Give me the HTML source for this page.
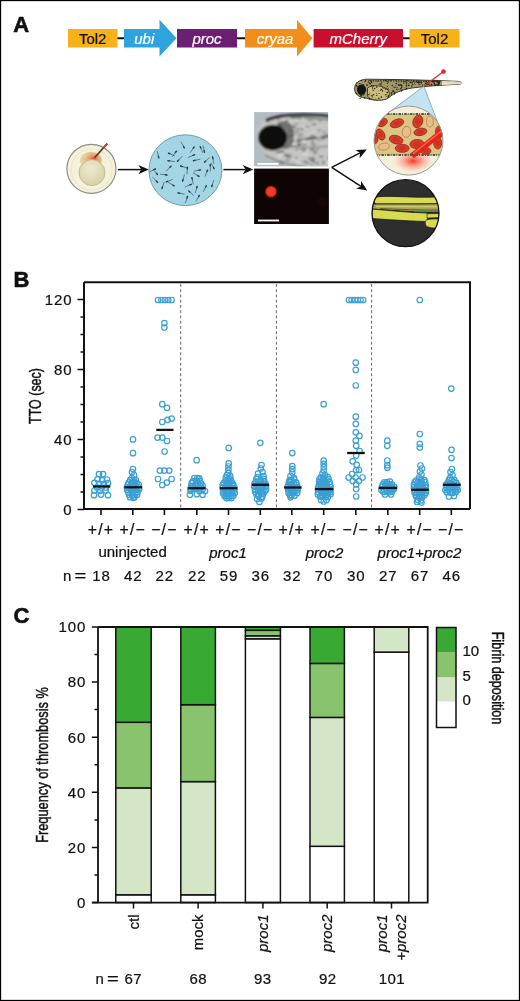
<!DOCTYPE html>
<html><head><meta charset="utf-8"><style>
html,body{margin:0;padding:0;background:#fff;}
svg{display:block;will-change:transform;}
.t{font-family:"Liberation Sans",sans-serif;font-size:15px;fill:#111;stroke:#111;stroke-width:0.22px;}
.i{font-style:italic;}
.gt{letter-spacing:1.2px;font-size:15.8px;}
.num{letter-spacing:0.9px;}
.ax{font-size:16px;stroke:#111;stroke-width:0.45px;}
.w{fill:#fff;stroke:#fff;}
.c15{font-size:15px;}
.pl{font-family:"Liberation Sans",sans-serif;font-weight:bold;font-size:22px;fill:#111;stroke:#111;stroke-width:0.6px;}
</style></head><body>
<svg width="520" height="1001" viewBox="0 0 520 1001">
<rect x="0" y="0" width="520" height="1001" fill="#fff"/>
<text x="13.3" y="32" class="pl">A</text>
<text x="13.6" y="287" class="pl">B</text>
<text x="13.6" y="622.6" class="pl">C</text>
<path d="M117,38.2 H124 M237,38.2 H245 M403,38.2 H410" stroke="#111" stroke-width="2"/>
<rect x="68" y="29" width="49.5" height="18.5" fill="#f7b219"/>
<text x="92.7" y="43.5" text-anchor="middle" class="t c15">Tol2</text>
<path d="M124,29 H159.5 V19.8 L176.5,38.2 L159.5,56.4 V47.5 H124 Z" fill="#2ea3dc"/>
<text x="144.3" y="43.5" text-anchor="middle" class="t i w c15">ubi</text>
<rect x="177" y="29" width="60" height="18.5" fill="#6b1f73"/>
<text x="207" y="43.5" text-anchor="middle" class="t i w c15">proc</text>
<path d="M245,29 H297 V19.8 L312.4,38.2 L297,56.4 V47.5 H245 Z" fill="#f18e1c"/>
<text x="275" y="43.5" text-anchor="middle" class="t i w c15">cryaa</text>
<rect x="313.6" y="29" width="89.4" height="18.5" fill="#c8102e"/>
<text x="358.3" y="43.5" text-anchor="middle" class="t i w c15">mCherry</text>
<rect x="409.5" y="29" width="50" height="18.5" fill="#f7b219"/>
<text x="434.5" y="43.5" text-anchor="middle" class="t c15">Tol2</text>
<defs>
<radialGradient id="yolk" cx="0.45" cy="0.35" r="0.7"><stop offset="0" stop-color="#eeead0"/><stop offset="1" stop-color="#d6cfa2"/></radialGradient>
<radialGradient id="cap" cx="0.62" cy="0.42" r="0.65"><stop offset="0" stop-color="#d8402a"/><stop offset="0.25" stop-color="#e2966a"/><stop offset="0.6" stop-color="#e8c490"/><stop offset="1" stop-color="#eed8a8"/></radialGradient>
<radialGradient id="glow" cx="0.5" cy="0.5" r="0.5"><stop offset="0" stop-color="#ff2a1a" stop-opacity="0.95"/><stop offset="0.5" stop-color="#ff5a40" stop-opacity="0.45"/><stop offset="1" stop-color="#ff8060" stop-opacity="0"/></radialGradient>
<radialGradient id="rdot" cx="0.5" cy="0.5" r="0.5"><stop offset="0" stop-color="#ff4a22"/><stop offset="0.75" stop-color="#f0361a"/><stop offset="1" stop-color="#b01c0c"/></radialGradient>
<clipPath id="c1"><circle cx="408.5" cy="140.6" r="34.5"/></clipPath>
<clipPath id="c2"><circle cx="405.5" cy="213.2" r="33.5"/></clipPath>
<clipPath id="ph"><rect x="254.1" y="112.1" width="74" height="54.2"/></clipPath>
<filter id="bl" x="-5%" y="-5%" width="110%" height="110%"><feGaussianBlur stdDeviation="1.0"/></filter>
</defs>
<circle cx="91.4" cy="168.8" r="24.5" fill="#f4f2dc" stroke="#8f8f88" stroke-width="1.2"/>
<circle cx="91.6" cy="169.5" r="20.5" fill="none" stroke="#ebe7c8" stroke-width="1.2"/>
<ellipse cx="91" cy="160.5" rx="11" ry="8.8" fill="url(#cap)"/>
<circle cx="92" cy="172.6" r="13" fill="url(#yolk)" stroke="#bdb58a" stroke-width="0.9"/>
<line x1="107.3" y1="143.6" x2="94.6" y2="157.6" stroke="#6a3526" stroke-width="1.6"/>
<line x1="107.3" y1="143.6" x2="103" y2="148.3" stroke="#c2402c" stroke-width="1.8"/>
<line x1="117.9" y1="169.6" x2="141.3" y2="169.6" stroke="#111" stroke-width="1.5"/><path d="M148.8,169.6 L138.3,174.2 L141.3,169.6 L138.3,165.0 Z" fill="#111"/>
<line x1="223.4" y1="169.6" x2="245.7" y2="169.6" stroke="#111" stroke-width="1.5"/><path d="M253.2,169.6 L242.7,174.2 L245.7,169.6 L242.7,165.0 Z" fill="#111"/>
<line x1="331.7" y1="167.4" x2="360.1" y2="152.8" stroke="#111" stroke-width="1.5"/><path d="M366.8,149.4 L359.6,158.3 L360.1,152.8 L355.4,150.1 Z" fill="#111"/>
<line x1="331.7" y1="167.4" x2="361.0" y2="186.4" stroke="#111" stroke-width="1.5"/><path d="M367.3,190.5 L356.0,188.6 L361.0,186.4 L361.0,180.9 Z" fill="#111"/>
<ellipse cx="185.4" cy="170.2" rx="36.5" ry="35.4" fill="#a3d5e5" stroke="#6d9fb0" stroke-width="1"/>
<g stroke="#2a3f46" stroke-linecap="round"><line x1="171.0" y1="166.2" x2="166.5" y2="170.9" stroke-width="0.6"/><line x1="171.0" y1="166.2" x2="169.9" y2="167.3" stroke-width="1.4"/><line x1="168.5" y1="153.2" x2="174.5" y2="155.8" stroke-width="0.6"/><line x1="168.5" y1="153.2" x2="170.0" y2="153.8" stroke-width="1.4"/><line x1="187.4" y1="167.3" x2="187.0" y2="173.8" stroke-width="0.6"/><line x1="187.4" y1="167.3" x2="187.3" y2="168.9" stroke-width="1.4"/><line x1="200.5" y1="169.9" x2="194.1" y2="171.1" stroke-width="0.6"/><line x1="200.5" y1="169.9" x2="198.9" y2="170.2" stroke-width="1.4"/><line x1="157.5" y1="174.5" x2="153.3" y2="169.5" stroke-width="0.6"/><line x1="157.5" y1="174.5" x2="156.4" y2="173.3" stroke-width="1.4"/><line x1="177.5" y1="161.3" x2="181.9" y2="156.5" stroke-width="0.6"/><line x1="177.5" y1="161.3" x2="178.6" y2="160.1" stroke-width="1.4"/><line x1="184.3" y1="147.9" x2="181.2" y2="142.2" stroke-width="0.6"/><line x1="184.3" y1="147.9" x2="183.5" y2="146.5" stroke-width="1.4"/><line x1="178.0" y1="192.9" x2="184.3" y2="194.2" stroke-width="0.6"/><line x1="178.0" y1="192.9" x2="179.5" y2="193.2" stroke-width="1.4"/><line x1="204.5" y1="152.2" x2="203.1" y2="145.8" stroke-width="0.6"/><line x1="204.5" y1="152.2" x2="204.2" y2="150.6" stroke-width="1.4"/><line x1="162.0" y1="188.5" x2="164.0" y2="182.4" stroke-width="0.6"/><line x1="162.0" y1="188.5" x2="162.5" y2="187.0" stroke-width="1.4"/><line x1="204.5" y1="162.2" x2="209.2" y2="157.7" stroke-width="0.6"/><line x1="204.5" y1="162.2" x2="205.7" y2="161.1" stroke-width="1.4"/><line x1="191.9" y1="177.6" x2="193.2" y2="184.0" stroke-width="0.6"/><line x1="191.9" y1="177.6" x2="192.2" y2="179.2" stroke-width="1.4"/><line x1="157.5" y1="182.2" x2="152.9" y2="177.5" stroke-width="0.6"/><line x1="157.5" y1="182.2" x2="156.3" y2="181.0" stroke-width="1.4"/><line x1="174.1" y1="185.8" x2="168.5" y2="182.5" stroke-width="0.6"/><line x1="174.1" y1="185.8" x2="172.7" y2="185.0" stroke-width="1.4"/><line x1="214.1" y1="168.7" x2="211.1" y2="163.0" stroke-width="0.6"/><line x1="214.1" y1="168.7" x2="213.4" y2="167.3" stroke-width="1.4"/><line x1="193.5" y1="160.7" x2="199.9" y2="159.3" stroke-width="0.6"/><line x1="193.5" y1="160.7" x2="195.1" y2="160.3" stroke-width="1.4"/><line x1="158.8" y1="157.9" x2="157.3" y2="151.6" stroke-width="0.6"/><line x1="158.8" y1="157.9" x2="158.4" y2="156.3" stroke-width="1.4"/><line x1="211.7" y1="186.6" x2="213.7" y2="180.4" stroke-width="0.6"/><line x1="211.7" y1="186.6" x2="212.2" y2="185.1" stroke-width="1.4"/><line x1="197.1" y1="186.4" x2="195.3" y2="192.7" stroke-width="0.6"/><line x1="197.1" y1="186.4" x2="196.7" y2="188.0" stroke-width="1.4"/><line x1="180.6" y1="166.0" x2="186.8" y2="167.8" stroke-width="0.6"/><line x1="180.6" y1="166.0" x2="182.1" y2="166.5" stroke-width="1.4"/><line x1="207.5" y1="170.1" x2="205.2" y2="176.1" stroke-width="0.6"/><line x1="207.5" y1="170.1" x2="207.0" y2="171.6" stroke-width="1.4"/><line x1="167.0" y1="175.0" x2="160.6" y2="174.2" stroke-width="0.6"/><line x1="167.0" y1="175.0" x2="165.4" y2="174.8" stroke-width="1.4"/><line x1="155.5" y1="169.0" x2="149.6" y2="171.7" stroke-width="0.6"/><line x1="155.5" y1="169.0" x2="154.0" y2="169.6" stroke-width="1.4"/><line x1="187.5" y1="196.5" x2="185.5" y2="202.7" stroke-width="0.6"/><line x1="187.5" y1="196.5" x2="187.0" y2="198.0" stroke-width="1.4"/><line x1="168.0" y1="160.7" x2="174.4" y2="161.5" stroke-width="0.6"/><line x1="168.0" y1="160.7" x2="169.6" y2="160.9" stroke-width="1.4"/><line x1="176.4" y1="151.2" x2="172.5" y2="156.4" stroke-width="0.6"/><line x1="176.4" y1="151.2" x2="175.4" y2="152.5" stroke-width="1.4"/><line x1="210.3" y1="164.5" x2="210.3" y2="171.0" stroke-width="0.6"/><line x1="210.3" y1="164.5" x2="210.3" y2="166.1" stroke-width="1.4"/><line x1="191.3" y1="184.3" x2="185.3" y2="186.9" stroke-width="0.6"/><line x1="191.3" y1="184.3" x2="189.8" y2="184.9" stroke-width="1.4"/><line x1="206.3" y1="185.8" x2="203.4" y2="191.6" stroke-width="0.6"/><line x1="206.3" y1="185.8" x2="205.6" y2="187.2" stroke-width="1.4"/><line x1="194.5" y1="154.8" x2="188.5" y2="157.3" stroke-width="0.6"/><line x1="194.5" y1="154.8" x2="193.0" y2="155.4" stroke-width="1.4"/><line x1="199.4" y1="195.4" x2="196.1" y2="200.9" stroke-width="0.6"/><line x1="199.4" y1="195.4" x2="198.6" y2="196.7" stroke-width="1.4"/><line x1="188.8" y1="190.9" x2="193.5" y2="195.3" stroke-width="0.6"/><line x1="188.8" y1="190.9" x2="189.9" y2="192.0" stroke-width="1.4"/><line x1="200.2" y1="146.6" x2="202.8" y2="152.6" stroke-width="0.6"/><line x1="200.2" y1="146.6" x2="200.8" y2="148.1" stroke-width="1.4"/><line x1="194.1" y1="147.0" x2="190.4" y2="152.4" stroke-width="0.6"/><line x1="194.1" y1="147.0" x2="193.2" y2="148.3" stroke-width="1.4"/><line x1="182.6" y1="181.1" x2="184.4" y2="174.8" stroke-width="0.6"/><line x1="182.6" y1="181.1" x2="183.0" y2="179.5" stroke-width="1.4"/><line x1="212.6" y1="157.0" x2="213.8" y2="163.4" stroke-width="0.6"/><line x1="212.6" y1="157.0" x2="212.9" y2="158.6" stroke-width="1.4"/><line x1="199.0" y1="176.4" x2="193.4" y2="173.0" stroke-width="0.6"/><line x1="199.0" y1="176.4" x2="197.6" y2="175.6" stroke-width="1.4"/><line x1="166.3" y1="181.9" x2="172.3" y2="179.5" stroke-width="0.6"/><line x1="166.3" y1="181.9" x2="167.7" y2="181.3" stroke-width="1.4"/></g>
<rect x="254.1" y="112.1" width="74" height="54.2" fill="#b4bcc3"/>
<g clip-path="url(#ph)"><g filter="url(#bl)">
<path d="M257,131 C258,121 272,114.5 292,114 C308,113.5 322,114.5 331,115.5 L331,168 L304,168 C292,165 278,161 268,155 C260,150 256,140 257,131 Z" fill="#c4c4c2"/>
<path d="M266,121 C276,115.5 292,114.5 310,115 C320,115.3 326,115.8 331,116.5" fill="none" stroke="#2e2e2e" stroke-width="3.2"/>
<path d="M290,118 C300,117.5 315,118.5 331,120" fill="none" stroke="#7a7a7a" stroke-width="1.6"/>
<path d="M265,155 C278,162 292,165.5 306,167.5" fill="none" stroke="#6a6a6a" stroke-width="1.3"/>
<path d="M292,142 C302,139.5 318,137.5 331,136" fill="none" stroke="#3a3a3a" stroke-width="2"/>
<path d="M295,150 C306,147.5 318,146.5 331,146.5" fill="none" stroke="#8a8a8a" stroke-width="1.4"/>
<ellipse cx="309.8" cy="134.0" rx="1.7" ry="1.8" fill="#e6e6e6" opacity="0.6"/>
<ellipse cx="320.2" cy="120.9" rx="1.6" ry="0.9" fill="#6a6a6a" opacity="0.6"/>
<ellipse cx="286.9" cy="155.2" rx="2.9" ry="1.8" fill="#6a6a6a" opacity="0.6"/>
<ellipse cx="303.4" cy="144.8" rx="1.9" ry="1.7" fill="#8c8c8c" opacity="0.6"/>
<ellipse cx="292.0" cy="142.8" rx="2.0" ry="1.4" fill="#6a6a6a" opacity="0.6"/>
<ellipse cx="322.6" cy="154.4" rx="1.3" ry="0.9" fill="#e6e6e6" opacity="0.6"/>
<ellipse cx="328.7" cy="158.2" rx="1.4" ry="1.4" fill="#7a7a7a" opacity="0.6"/>
<ellipse cx="286.2" cy="121.4" rx="1.9" ry="1.3" fill="#7a7a7a" opacity="0.6"/>
<ellipse cx="296.8" cy="127.0" rx="1.8" ry="0.9" fill="#dddddd" opacity="0.6"/>
<ellipse cx="278.2" cy="152.0" rx="2.6" ry="1.5" fill="#6a6a6a" opacity="0.6"/>
<ellipse cx="297.4" cy="146.4" rx="2.6" ry="1.3" fill="#6a6a6a" opacity="0.6"/>
<ellipse cx="310.4" cy="138.3" rx="1.9" ry="1.4" fill="#5a5a5a" opacity="0.6"/>
<ellipse cx="294.4" cy="162.7" rx="2.0" ry="0.8" fill="#8c8c8c" opacity="0.6"/>
<ellipse cx="305.9" cy="150.7" rx="1.3" ry="1.3" fill="#e6e6e6" opacity="0.6"/>
<ellipse cx="284.8" cy="119.3" rx="1.8" ry="2.0" fill="#dddddd" opacity="0.6"/>
<ellipse cx="319.1" cy="130.3" rx="2.0" ry="0.9" fill="#5a5a5a" opacity="0.6"/>
<ellipse cx="312.4" cy="159.7" rx="2.6" ry="1.6" fill="#5a5a5a" opacity="0.6"/>
<ellipse cx="294.6" cy="143.0" rx="2.7" ry="1.7" fill="#e6e6e6" opacity="0.6"/>
<ellipse cx="285.5" cy="154.4" rx="1.3" ry="0.9" fill="#6a6a6a" opacity="0.6"/>
<ellipse cx="312.3" cy="135.7" rx="2.7" ry="1.2" fill="#6a6a6a" opacity="0.6"/>
<ellipse cx="279.3" cy="123.4" rx="2.1" ry="1.6" fill="#7a7a7a" opacity="0.6"/>
<ellipse cx="308.1" cy="155.5" rx="1.3" ry="1.7" fill="#dddddd" opacity="0.6"/>
<ellipse cx="305.5" cy="129.2" rx="2.2" ry="0.9" fill="#dddddd" opacity="0.6"/>
<ellipse cx="281.2" cy="133.2" rx="2.2" ry="1.8" fill="#8c8c8c" opacity="0.6"/>
<ellipse cx="329.9" cy="148.4" rx="2.0" ry="1.6" fill="#e6e6e6" opacity="0.6"/>
<ellipse cx="291.2" cy="146.2" rx="2.9" ry="1.5" fill="#6a6a6a" opacity="0.6"/>
<ellipse cx="297.5" cy="129.1" rx="2.9" ry="1.8" fill="#8c8c8c" opacity="0.6"/>
<ellipse cx="299.6" cy="144.7" rx="2.2" ry="1.9" fill="#5a5a5a" opacity="0.6"/>
<ellipse cx="303.2" cy="148.2" rx="2.8" ry="1.0" fill="#6a6a6a" opacity="0.6"/>
<ellipse cx="303.9" cy="140.7" rx="2.5" ry="1.9" fill="#dddddd" opacity="0.6"/>
<ellipse cx="315.4" cy="126.7" rx="1.7" ry="1.0" fill="#dddddd" opacity="0.6"/>
<ellipse cx="304.8" cy="161.9" rx="2.7" ry="1.4" fill="#7a7a7a" opacity="0.6"/>
<ellipse cx="312.9" cy="158.2" rx="2.3" ry="1.5" fill="#7a7a7a" opacity="0.6"/>
<ellipse cx="324.2" cy="132.4" rx="1.7" ry="1.8" fill="#8c8c8c" opacity="0.6"/>
<ellipse cx="287.0" cy="134.9" rx="1.8" ry="1.7" fill="#8c8c8c" opacity="0.6"/>
<ellipse cx="299.8" cy="150.8" rx="2.5" ry="1.0" fill="#dddddd" opacity="0.6"/>
<ellipse cx="321.4" cy="156.6" rx="2.2" ry="1.4" fill="#5a5a5a" opacity="0.6"/>
<ellipse cx="281.8" cy="162.5" rx="2.6" ry="1.9" fill="#6a6a6a" opacity="0.6"/>
<ellipse cx="302.3" cy="128.8" rx="1.6" ry="1.7" fill="#5a5a5a" opacity="0.6"/>
<ellipse cx="281.6" cy="128.2" rx="1.7" ry="1.9" fill="#7a7a7a" opacity="0.6"/>
<ellipse cx="285.1" cy="147.2" rx="2.4" ry="0.8" fill="#7a7a7a" opacity="0.6"/>
<ellipse cx="286.8" cy="120.1" rx="1.5" ry="0.9" fill="#6a6a6a" opacity="0.6"/>
<ellipse cx="284.1" cy="130.4" rx="2.8" ry="0.8" fill="#e6e6e6" opacity="0.6"/>
<ellipse cx="308.2" cy="149.7" rx="1.2" ry="1.2" fill="#e6e6e6" opacity="0.6"/>
<ellipse cx="297.7" cy="121.7" rx="2.4" ry="1.7" fill="#e6e6e6" opacity="0.6"/>
<ellipse cx="298.3" cy="143.6" rx="1.4" ry="1.1" fill="#5a5a5a" opacity="0.6"/>
<ellipse cx="300.5" cy="138.6" rx="2.1" ry="1.1" fill="#dddddd" opacity="0.6"/>
<ellipse cx="326.9" cy="135.6" rx="2.6" ry="1.7" fill="#7a7a7a" opacity="0.6"/>
<ellipse cx="312.5" cy="149.5" rx="2.9" ry="1.8" fill="#6a6a6a" opacity="0.6"/>
<ellipse cx="317.2" cy="163.2" rx="2.4" ry="1.4" fill="#6a6a6a" opacity="0.6"/>
<ellipse cx="312.7" cy="141.9" rx="1.3" ry="1.2" fill="#5a5a5a" opacity="0.6"/>
<ellipse cx="307.5" cy="126.6" rx="2.4" ry="1.6" fill="#8c8c8c" opacity="0.6"/>
<ellipse cx="297.3" cy="161.2" rx="2.0" ry="0.9" fill="#dddddd" opacity="0.6"/>
<ellipse cx="285.4" cy="133.6" rx="2.5" ry="1.5" fill="#dddddd" opacity="0.6"/>
<ellipse cx="293.6" cy="126.8" rx="2.1" ry="1.7" fill="#5a5a5a" opacity="0.6"/>
<ellipse cx="281.6" cy="151.6" rx="2.6" ry="1.5" fill="#5a5a5a" opacity="0.6"/>
<ellipse cx="298.4" cy="122.7" rx="1.7" ry="0.9" fill="#8c8c8c" opacity="0.6"/>
<ellipse cx="280.2" cy="141.7" rx="1.6" ry="1.7" fill="#7a7a7a" opacity="0.6"/>
<ellipse cx="323.5" cy="162.4" rx="2.0" ry="1.8" fill="#6a6a6a" opacity="0.6"/>
<ellipse cx="296.3" cy="157.8" rx="1.4" ry="1.1" fill="#6a6a6a" opacity="0.6"/>
<ellipse cx="313.4" cy="144.5" rx="2.8" ry="0.9" fill="#5a5a5a" opacity="0.6"/>
<ellipse cx="287.8" cy="137.6" rx="2.5" ry="1.8" fill="#5a5a5a" opacity="0.6"/>
<ellipse cx="284.7" cy="146.6" rx="2.7" ry="1.8" fill="#dddddd" opacity="0.6"/>
<ellipse cx="305.4" cy="144.7" rx="1.6" ry="1.1" fill="#7a7a7a" opacity="0.6"/>
<ellipse cx="279.6" cy="155.7" rx="2.8" ry="1.9" fill="#e6e6e6" opacity="0.6"/>
<ellipse cx="294.4" cy="160.6" rx="1.8" ry="1.4" fill="#dddddd" opacity="0.6"/>
<ellipse cx="313.7" cy="132.1" rx="2.7" ry="1.4" fill="#dddddd" opacity="0.6"/>
<ellipse cx="287.9" cy="147.8" rx="1.4" ry="1.7" fill="#8c8c8c" opacity="0.6"/>
<ellipse cx="303.6" cy="142.6" rx="2.0" ry="1.0" fill="#dddddd" opacity="0.6"/>
<ellipse cx="289.0" cy="156.2" rx="2.9" ry="1.9" fill="#6a6a6a" opacity="0.6"/>
<ellipse cx="307.4" cy="163.1" rx="2.8" ry="1.0" fill="#6a6a6a" opacity="0.6"/>
<ellipse cx="310.4" cy="120.4" rx="1.8" ry="1.1" fill="#6a6a6a" opacity="0.6"/>
<ellipse cx="303.9" cy="118.9" rx="1.8" ry="1.2" fill="#7a7a7a" opacity="0.6"/>
<ellipse cx="314.1" cy="124.3" rx="2.7" ry="1.5" fill="#6a6a6a" opacity="0.6"/>
<ellipse cx="315.2" cy="152.8" rx="1.8" ry="1.8" fill="#6a6a6a" opacity="0.6"/>
<ellipse cx="322.8" cy="138.5" rx="2.6" ry="1.4" fill="#6a6a6a" opacity="0.6"/>
<ellipse cx="318.9" cy="137.2" rx="2.7" ry="1.6" fill="#e6e6e6" opacity="0.6"/>
<ellipse cx="303.9" cy="150.9" rx="2.2" ry="1.3" fill="#5a5a5a" opacity="0.6"/>
<ellipse cx="303.4" cy="119.1" rx="2.0" ry="1.6" fill="#e6e6e6" opacity="0.6"/>
<ellipse cx="287.4" cy="160.3" rx="2.5" ry="1.2" fill="#7a7a7a" opacity="0.6"/>
<ellipse cx="301.3" cy="135.0" rx="1.9" ry="2.0" fill="#8c8c8c" opacity="0.6"/>
<ellipse cx="291.5" cy="135.4" rx="2.7" ry="1.4" fill="#8c8c8c" opacity="0.6"/>
<ellipse cx="288.9" cy="126.0" rx="1.9" ry="1.0" fill="#6a6a6a" opacity="0.6"/>
<ellipse cx="285.2" cy="146.6" rx="2.0" ry="1.0" fill="#6a6a6a" opacity="0.6"/>
<ellipse cx="299.0" cy="132.9" rx="1.3" ry="1.7" fill="#8c8c8c" opacity="0.6"/>
<ellipse cx="299.0" cy="136.6" rx="1.2" ry="2.0" fill="#8c8c8c" opacity="0.6"/>
<ellipse cx="290.6" cy="136.3" rx="1.5" ry="1.2" fill="#6a6a6a" opacity="0.6"/>
<ellipse cx="296.0" cy="123.8" rx="1.3" ry="1.7" fill="#7a7a7a" opacity="0.6"/>
<ellipse cx="329.0" cy="162.3" rx="2.6" ry="2.0" fill="#e6e6e6" opacity="0.6"/>
<ellipse cx="291.0" cy="130.5" rx="2.7" ry="1.6" fill="#7a7a7a" opacity="0.6"/>
<ellipse cx="294.5" cy="120.7" rx="2.0" ry="0.9" fill="#dddddd" opacity="0.6"/>
<ellipse cx="278.2" cy="119.4" rx="1.4" ry="1.0" fill="#6a6a6a" opacity="0.6"/>
<ellipse cx="303.1" cy="126.9" rx="2.1" ry="1.2" fill="#e6e6e6" opacity="0.6"/>
<ellipse cx="295.7" cy="140.5" rx="1.8" ry="1.6" fill="#e6e6e6" opacity="0.6"/>
<ellipse cx="293.8" cy="146.5" rx="2.9" ry="0.9" fill="#7a7a7a" opacity="0.6"/>
<ellipse cx="287.6" cy="137.4" rx="2.1" ry="1.5" fill="#dddddd" opacity="0.6"/>
<ellipse cx="313.4" cy="161.6" rx="1.5" ry="1.7" fill="#5a5a5a" opacity="0.6"/>
<ellipse cx="298.1" cy="162.1" rx="1.8" ry="1.0" fill="#e6e6e6" opacity="0.6"/>
<ellipse cx="300.8" cy="138.9" rx="2.5" ry="1.2" fill="#8c8c8c" opacity="0.6"/>
<ellipse cx="304.4" cy="153.4" rx="2.8" ry="1.6" fill="#e6e6e6" opacity="0.6"/>
<ellipse cx="280.2" cy="126.1" rx="2.6" ry="1.8" fill="#6a6a6a" opacity="0.6"/>
<ellipse cx="317.4" cy="149.8" rx="1.4" ry="1.1" fill="#5a5a5a" opacity="0.6"/>
<ellipse cx="280.9" cy="146.8" rx="1.3" ry="1.4" fill="#5a5a5a" opacity="0.6"/>
<ellipse cx="311.6" cy="164.9" rx="1.2" ry="1.0" fill="#6a6a6a" opacity="0.6"/>
<ellipse cx="295.6" cy="132.6" rx="2.0" ry="1.8" fill="#8c8c8c" opacity="0.6"/>
<ellipse cx="290.5" cy="120.3" rx="1.5" ry="1.6" fill="#dddddd" opacity="0.6"/>
<ellipse cx="329.2" cy="123.3" rx="1.7" ry="1.1" fill="#dddddd" opacity="0.6"/>
<ellipse cx="304.8" cy="141.7" rx="2.8" ry="1.2" fill="#dddddd" opacity="0.6"/>
<ellipse cx="318.7" cy="140.0" rx="2.3" ry="0.8" fill="#6a6a6a" opacity="0.6"/>
<ellipse cx="309.1" cy="158.4" rx="1.4" ry="1.9" fill="#7a7a7a" opacity="0.6"/>
<ellipse cx="284" cy="135" rx="10" ry="14" fill="#404040" opacity="0.6"/>
<ellipse cx="272.6" cy="137.6" rx="14.5" ry="12.8" fill="#111"/>
</g></g>
<rect x="257.5" y="163" width="21" height="1.8" fill="#fff"/>
<rect x="254.1" y="168.6" width="74.8" height="55.4" fill="#0e0404"/>
<circle cx="271" cy="191.6" r="6.6" fill="#ff2a10" opacity="0.18"/>
<circle cx="271" cy="191.6" r="5.6" fill="url(#rdot)"/>
<circle cx="322" cy="202" r="5" fill="#2a0606" opacity="0.5"/>
<rect x="258" y="219.6" width="21" height="1.8" fill="#fff"/>
<path d="M354.6,89 C354.6,83 359,79.8 366,79.2 L400,79.6 C420,80 440,80.6 458,81.4 C462,81.8 462.5,83.6 459,84.2 C445,85 428,85.8 412,88 C402,89.6 394,93 389,97.5 C384,100.8 373,101 367,98.2 C361,98.3 354.6,95 354.6,89 Z" fill="#a39a6c" stroke="#2e2a18" stroke-width="0.9"/>
<path d="M442,80.9 C450,81.1 456,81.3 458,81.4 C462,81.8 462.5,83.6 459,84.2 C452,84.6 446,85 442,85.2 Z" fill="#e2dcc0"/>
<path d="M367.5,88 C372,84.5 383,85 388,90 C391,94 389,98 385,99.6 C378,101 370,100 367.5,96 Z" fill="#c9bc7c" stroke="#2e2a18" stroke-width="0.8"/>
<g fill="#1e1c12"><circle cx="363.2" cy="89.1" r="0.46"/><circle cx="425.7" cy="83.3" r="0.67"/><circle cx="420.0" cy="84.5" r="0.52"/><circle cx="406.7" cy="84.1" r="0.41"/><circle cx="426.2" cy="83.2" r="0.76"/><circle cx="373.3" cy="90.5" r="0.58"/><circle cx="417.2" cy="80.8" r="0.52"/><circle cx="396.7" cy="81.3" r="0.63"/><circle cx="417.8" cy="82.4" r="0.67"/><circle cx="406.9" cy="82.1" r="0.53"/><circle cx="439.6" cy="82.0" r="0.57"/><circle cx="363.1" cy="84.5" r="0.43"/><circle cx="434.2" cy="83.8" r="0.79"/><circle cx="438.9" cy="83.3" r="0.82"/><circle cx="401.0" cy="84.9" r="0.82"/><circle cx="431.9" cy="84.9" r="0.59"/><circle cx="421.0" cy="82.3" r="0.85"/><circle cx="433.3" cy="81.8" r="0.82"/><circle cx="371.5" cy="82.2" r="0.71"/><circle cx="380.7" cy="90.1" r="0.67"/><circle cx="359.4" cy="94.3" r="0.49"/><circle cx="392.3" cy="85.5" r="0.72"/><circle cx="418.7" cy="81.8" r="0.40"/><circle cx="381.1" cy="88.1" r="0.39"/><circle cx="368.9" cy="94.7" r="0.70"/><circle cx="438.0" cy="85.0" r="0.79"/><circle cx="387.3" cy="83.4" r="0.51"/><circle cx="394.9" cy="87.5" r="0.62"/><circle cx="386.2" cy="96.3" r="0.49"/><circle cx="394.9" cy="92.4" r="0.75"/><circle cx="381.0" cy="84.9" r="0.75"/><circle cx="356.8" cy="82.9" r="0.62"/><circle cx="401.0" cy="82.2" r="0.38"/><circle cx="373.1" cy="94.8" r="0.58"/><circle cx="438.3" cy="84.1" r="0.84"/><circle cx="359.0" cy="83.9" r="0.36"/><circle cx="392.3" cy="85.4" r="0.38"/><circle cx="401.9" cy="81.4" r="0.51"/><circle cx="376.8" cy="95.4" r="0.56"/><circle cx="377.9" cy="81.2" r="0.56"/><circle cx="408.7" cy="85.4" r="0.81"/><circle cx="423.9" cy="81.6" r="0.42"/><circle cx="419.7" cy="84.1" r="0.60"/><circle cx="425.8" cy="83.0" r="0.49"/><circle cx="370.2" cy="80.7" r="0.67"/><circle cx="431.3" cy="84.7" r="0.58"/><circle cx="411.9" cy="85.9" r="0.76"/><circle cx="406.6" cy="83.8" r="0.61"/><circle cx="370.3" cy="83.8" r="0.69"/><circle cx="439.3" cy="83.0" r="0.55"/><circle cx="385.6" cy="88.9" r="0.75"/><circle cx="394.0" cy="93.8" r="0.43"/><circle cx="382.5" cy="90.2" r="0.56"/><circle cx="427.5" cy="84.3" r="0.82"/><circle cx="407.4" cy="80.6" r="0.64"/><circle cx="402.2" cy="85.4" r="0.49"/><circle cx="415.6" cy="84.7" r="0.40"/><circle cx="412.2" cy="82.5" r="0.61"/><circle cx="431.2" cy="84.9" r="0.67"/><circle cx="372.4" cy="97.6" r="0.44"/><circle cx="388.2" cy="95.9" r="0.51"/><circle cx="378.8" cy="98.2" r="0.82"/><circle cx="382.7" cy="87.7" r="0.49"/><circle cx="367.0" cy="85.1" r="0.84"/><circle cx="362.7" cy="84.7" r="0.45"/><circle cx="362.7" cy="90.2" r="0.72"/><circle cx="426.4" cy="83.4" r="0.76"/><circle cx="356.5" cy="85.7" r="0.83"/><circle cx="361.8" cy="85.4" r="0.59"/><circle cx="378.5" cy="90.6" r="0.37"/><circle cx="375.8" cy="98.3" r="0.42"/><circle cx="432.1" cy="81.2" r="0.85"/><circle cx="412.7" cy="84.0" r="0.42"/><circle cx="360.6" cy="94.6" r="0.44"/><circle cx="371.9" cy="95.8" r="0.79"/><circle cx="360.1" cy="98.4" r="0.62"/><circle cx="388.1" cy="82.4" r="0.54"/><circle cx="439.0" cy="81.7" r="0.42"/><circle cx="368.2" cy="82.8" r="0.53"/><circle cx="432.9" cy="80.8" r="0.45"/><circle cx="434.9" cy="85.1" r="0.84"/><circle cx="376.7" cy="87.0" r="0.83"/><circle cx="396.7" cy="89.3" r="0.51"/><circle cx="357.8" cy="86.9" r="0.72"/><circle cx="421.7" cy="83.1" r="0.58"/><circle cx="401.2" cy="85.1" r="0.62"/><circle cx="426.0" cy="81.3" r="0.65"/><circle cx="434.4" cy="84.4" r="0.44"/><circle cx="436.9" cy="84.3" r="0.43"/><circle cx="378.3" cy="84.2" r="0.38"/><circle cx="438.2" cy="82.3" r="0.79"/><circle cx="365.6" cy="80.7" r="0.78"/><circle cx="422.7" cy="85.1" r="0.69"/><circle cx="400.1" cy="89.0" r="0.40"/><circle cx="401.4" cy="85.1" r="0.42"/><circle cx="406.4" cy="83.1" r="0.60"/><circle cx="387.4" cy="86.3" r="0.53"/><circle cx="406.5" cy="88.6" r="0.82"/><circle cx="428.4" cy="84.3" r="0.49"/><circle cx="438.0" cy="81.7" r="0.41"/><circle cx="398.1" cy="89.3" r="0.52"/><circle cx="410.2" cy="82.3" r="0.83"/><circle cx="394.0" cy="87.1" r="0.62"/><circle cx="429.5" cy="85.0" r="0.61"/><circle cx="393.1" cy="89.3" r="0.38"/><circle cx="391.7" cy="93.1" r="0.74"/><circle cx="361.0" cy="96.4" r="0.54"/><circle cx="438.4" cy="82.1" r="0.46"/><circle cx="402.1" cy="89.5" r="0.57"/><circle cx="428.9" cy="83.7" r="0.53"/><circle cx="381.3" cy="89.8" r="0.55"/><circle cx="387.3" cy="92.6" r="0.79"/><circle cx="405.1" cy="81.7" r="0.46"/><circle cx="387.2" cy="91.9" r="0.42"/><circle cx="362.9" cy="86.4" r="0.49"/><circle cx="358.5" cy="90.5" r="0.81"/><circle cx="400.9" cy="88.4" r="0.76"/><circle cx="426.4" cy="84.7" r="0.57"/><circle cx="413.3" cy="81.0" r="0.79"/><circle cx="387.8" cy="89.3" r="0.80"/><circle cx="380.1" cy="84.0" r="0.76"/><circle cx="406.3" cy="81.1" r="0.36"/><circle cx="385.5" cy="80.5" r="0.77"/><circle cx="371.4" cy="85.5" r="0.54"/><circle cx="399.0" cy="85.5" r="0.66"/><circle cx="411.4" cy="83.1" r="0.40"/><circle cx="438.2" cy="83.6" r="0.39"/><circle cx="393.1" cy="91.2" r="0.85"/><circle cx="361.5" cy="80.6" r="0.59"/><circle cx="391.5" cy="93.9" r="0.76"/><circle cx="383.9" cy="88.2" r="0.64"/><circle cx="430.3" cy="81.3" r="0.55"/><circle cx="363.4" cy="92.4" r="0.36"/><circle cx="434.5" cy="82.9" r="0.64"/><circle cx="363.2" cy="84.7" r="0.58"/><circle cx="428.0" cy="82.9" r="0.49"/><circle cx="438.5" cy="83.5" r="0.61"/><circle cx="373.0" cy="86.0" r="0.80"/><circle cx="367.2" cy="90.3" r="0.66"/><circle cx="385.8" cy="94.8" r="0.80"/><circle cx="428.0" cy="83.9" r="0.45"/><circle cx="361.0" cy="88.5" r="0.51"/><circle cx="372.3" cy="96.7" r="0.46"/><circle cx="425.1" cy="84.8" r="0.41"/><circle cx="432.7" cy="82.3" r="0.46"/><circle cx="371.7" cy="81.1" r="0.60"/><circle cx="388.3" cy="96.3" r="0.77"/><circle cx="360.8" cy="87.9" r="0.54"/><circle cx="370.9" cy="85.1" r="0.48"/><circle cx="414.3" cy="82.0" r="0.41"/><circle cx="374.5" cy="88.7" r="0.63"/><circle cx="376.6" cy="93.5" r="0.46"/><circle cx="412.3" cy="83.9" r="0.44"/><circle cx="419.1" cy="82.3" r="0.62"/><circle cx="406.2" cy="85.7" r="0.57"/><circle cx="360.7" cy="95.1" r="0.78"/><circle cx="397.2" cy="87.7" r="0.48"/><circle cx="431.5" cy="83.6" r="0.46"/><circle cx="424.7" cy="85.0" r="0.52"/><circle cx="439.6" cy="82.7" r="0.44"/><circle cx="416.2" cy="82.0" r="0.72"/><circle cx="405.0" cy="81.4" r="0.61"/><circle cx="427.5" cy="82.6" r="0.62"/><circle cx="428.5" cy="82.5" r="0.60"/><circle cx="405.0" cy="87.8" r="0.45"/><circle cx="363.9" cy="94.6" r="0.63"/><circle cx="381.4" cy="97.1" r="0.79"/><circle cx="401.5" cy="90.9" r="0.77"/><circle cx="418.8" cy="81.8" r="0.36"/><circle cx="413.0" cy="84.4" r="0.53"/><circle cx="396.2" cy="87.7" r="0.47"/><circle cx="414.6" cy="83.0" r="0.54"/><circle cx="365.2" cy="90.8" r="0.51"/><circle cx="416.9" cy="81.2" r="0.55"/><circle cx="372.5" cy="88.0" r="0.64"/><circle cx="365.0" cy="81.4" r="0.59"/><circle cx="372.9" cy="89.8" r="0.43"/><circle cx="364.5" cy="90.5" r="0.81"/><circle cx="429.0" cy="82.8" r="0.55"/><circle cx="361.6" cy="85.6" r="0.51"/><circle cx="435.1" cy="81.0" r="0.82"/><circle cx="396.0" cy="86.1" r="0.48"/><circle cx="436.9" cy="81.3" r="0.64"/><circle cx="398.9" cy="82.7" r="0.46"/><circle cx="438.8" cy="84.1" r="0.72"/><circle cx="431.8" cy="80.9" r="0.70"/><circle cx="419.0" cy="81.5" r="0.58"/><circle cx="437.9" cy="81.9" r="0.73"/><circle cx="369.9" cy="92.9" r="0.48"/><circle cx="398.7" cy="84.8" r="0.79"/><circle cx="418.6" cy="82.8" r="0.69"/><circle cx="391.9" cy="92.4" r="0.48"/><circle cx="401.7" cy="86.5" r="0.54"/><circle cx="359.9" cy="83.6" r="0.67"/><circle cx="373.8" cy="94.6" r="0.60"/><circle cx="436.1" cy="84.4" r="0.71"/><circle cx="387.3" cy="81.2" r="0.63"/><circle cx="418.6" cy="84.7" r="0.45"/><circle cx="369.3" cy="98.7" r="0.72"/><circle cx="396.7" cy="89.8" r="0.42"/><circle cx="401.7" cy="87.4" r="0.65"/><circle cx="369.5" cy="83.0" r="0.66"/><circle cx="430.3" cy="81.0" r="0.35"/><circle cx="363.0" cy="95.1" r="0.55"/><circle cx="394.3" cy="94.1" r="0.66"/><circle cx="378.1" cy="93.5" r="0.35"/><circle cx="379.6" cy="93.5" r="0.44"/><circle cx="358.7" cy="90.1" r="0.51"/><circle cx="437.6" cy="80.9" r="0.75"/><circle cx="388.6" cy="95.5" r="0.57"/><circle cx="412.1" cy="82.3" r="0.46"/><circle cx="394.0" cy="91.6" r="0.52"/><circle cx="375.3" cy="88.2" r="0.40"/><circle cx="382.5" cy="91.1" r="0.62"/><circle cx="406.2" cy="82.9" r="0.36"/><circle cx="358.2" cy="86.7" r="0.45"/><circle cx="403.8" cy="82.9" r="0.73"/><circle cx="406.5" cy="85.9" r="0.72"/><circle cx="399.8" cy="85.2" r="0.50"/><circle cx="361.3" cy="95.3" r="0.60"/><circle cx="364.4" cy="97.7" r="0.64"/><circle cx="408.4" cy="83.7" r="0.41"/><circle cx="440.0" cy="81.2" r="0.53"/><circle cx="439.9" cy="81.0" r="0.60"/><circle cx="396.3" cy="83.6" r="0.81"/><circle cx="390.8" cy="80.6" r="0.59"/><circle cx="356.4" cy="93.6" r="0.78"/><circle cx="432.1" cy="80.6" r="0.69"/><circle cx="381.6" cy="89.2" r="0.50"/><circle cx="381.6" cy="82.9" r="0.66"/></g>
<path d="M368,81 C390,80.5 420,81 440,81.8" fill="none" stroke="#2e2a18" stroke-width="1.2" stroke-dasharray="1.5,1"/>
<ellipse cx="361.5" cy="89.6" rx="4.6" ry="5.2" fill="#141414"/>
<path d="M423.8,86.2 L385.5,115 A34.5,34.5 0 0 1 437.5,122 Z" fill="#c4e3f2"/>
<path d="M385.5,115 L423.8,86.2 L437.5,122" fill="none" stroke="#7f9aa6" stroke-width="0.8"/>
<line x1="443.5" y1="71.6" x2="423.8" y2="86.2" stroke="#e8262a" stroke-width="1.3"/>
<circle cx="443.5" cy="71.6" r="2.3" fill="#e8262a"/>
<circle cx="408.5" cy="140.6" r="34.5" fill="#f5eedb"/>
<g clip-path="url(#c1)">
<rect x="370" y="114" width="80" height="41" fill="#dbc585"/>
<ellipse cx="413" cy="161" rx="19" ry="11" fill="url(#glow)"/>
<ellipse cx="382.3" cy="122.4" rx="5.4" ry="3.8" transform="rotate(-30 382.3 122.4)" fill="#d83c2a" stroke="#9e2616" stroke-width="0.8"/>
<ellipse cx="382.3" cy="122.4" rx="2.9700000000000006" ry="1.9" transform="rotate(-30 382.3 122.4)" fill="#c22c1c" opacity="0.6"/>
<ellipse cx="397" cy="123.3" rx="7" ry="4" transform="rotate(-20 397 123.3)" fill="#d83c2a" stroke="#9e2616" stroke-width="0.8"/>
<ellipse cx="397" cy="123.3" rx="3.8500000000000005" ry="2.0" transform="rotate(-20 397 123.3)" fill="#c22c1c" opacity="0.6"/>
<ellipse cx="417.8" cy="121.5" rx="4.8" ry="6.5" transform="rotate(20 417.8 121.5)" fill="#d83c2a" stroke="#9e2616" stroke-width="0.8"/>
<ellipse cx="417.8" cy="121.5" rx="2.64" ry="3.25" transform="rotate(20 417.8 121.5)" fill="#c22c1c" opacity="0.6"/>
<ellipse cx="429.9" cy="121.5" rx="3.5" ry="5.5" transform="rotate(0 429.9 121.5)" fill="#e7bd88" stroke="#c97a4a" stroke-width="0.8"/>
<ellipse cx="380.6" cy="134.5" rx="6" ry="3.8" transform="rotate(60 380.6 134.5)" fill="#d83c2a" stroke="#9e2616" stroke-width="0.8"/>
<ellipse cx="380.6" cy="134.5" rx="3.3000000000000003" ry="1.9" transform="rotate(60 380.6 134.5)" fill="#c22c1c" opacity="0.6"/>
<ellipse cx="406.5" cy="131.9" rx="4.3" ry="5.5" transform="rotate(10 406.5 131.9)" fill="#e7bd88" stroke="#c97a4a" stroke-width="0.8"/>
<ellipse cx="420.4" cy="131.9" rx="6.5" ry="3.6" transform="rotate(-10 420.4 131.9)" fill="#d83c2a" stroke="#9e2616" stroke-width="0.8"/>
<ellipse cx="420.4" cy="131.9" rx="3.575" ry="1.8" transform="rotate(-10 420.4 131.9)" fill="#c22c1c" opacity="0.6"/>
<ellipse cx="439.4" cy="131.9" rx="4" ry="6" transform="rotate(0 439.4 131.9)" fill="#d83c2a" stroke="#9e2616" stroke-width="0.8"/>
<ellipse cx="439.4" cy="131.9" rx="2.2" ry="3.0" transform="rotate(0 439.4 131.9)" fill="#c22c1c" opacity="0.6"/>
<ellipse cx="374.5" cy="139" rx="3.5" ry="5" transform="rotate(0 374.5 139)" fill="#d83c2a" stroke="#9e2616" stroke-width="0.8"/>
<ellipse cx="374.5" cy="139" rx="1.9250000000000003" ry="2.5" transform="rotate(0 374.5 139)" fill="#c22c1c" opacity="0.6"/>
<ellipse cx="396.1" cy="139.7" rx="7" ry="4.2" transform="rotate(15 396.1 139.7)" fill="#d83c2a" stroke="#9e2616" stroke-width="0.8"/>
<ellipse cx="396.1" cy="139.7" rx="3.8500000000000005" ry="2.1" transform="rotate(15 396.1 139.7)" fill="#c22c1c" opacity="0.6"/>
<ellipse cx="416.9" cy="144" rx="7" ry="4.5" transform="rotate(-5 416.9 144)" fill="#d83c2a" stroke="#9e2616" stroke-width="0.8"/>
<ellipse cx="416.9" cy="144" rx="3.8500000000000005" ry="2.25" transform="rotate(-5 416.9 144)" fill="#c22c1c" opacity="0.6"/>
<ellipse cx="437.7" cy="143.1" rx="4" ry="6" transform="rotate(0 437.7 143.1)" fill="#d83c2a" stroke="#9e2616" stroke-width="0.8"/>
<ellipse cx="437.7" cy="143.1" rx="2.2" ry="3.0" transform="rotate(0 437.7 143.1)" fill="#c22c1c" opacity="0.6"/>
<ellipse cx="384" cy="146.6" rx="5.5" ry="3.5" transform="rotate(-10 384 146.6)" fill="#e7bd88" stroke="#c97a4a" stroke-width="0.8"/>
<ellipse cx="402.2" cy="148.3" rx="7" ry="4" transform="rotate(0 402.2 148.3)" fill="#d83c2a" stroke="#9e2616" stroke-width="0.8"/>
<ellipse cx="402.2" cy="148.3" rx="3.8500000000000005" ry="2.0" transform="rotate(0 402.2 148.3)" fill="#c22c1c" opacity="0.6"/>
<ellipse cx="426" cy="151" rx="5" ry="3.5" transform="rotate(0 426 151)" fill="#d83c2a" stroke="#9e2616" stroke-width="0.8"/>
<ellipse cx="426" cy="151" rx="2.75" ry="1.75" transform="rotate(0 426 151)" fill="#c22c1c" opacity="0.6"/>
<line x1="452" y1="124" x2="412" y2="156" stroke="#e5241c" stroke-width="6"/>
<line x1="452" y1="122.5" x2="413" y2="153.8" stroke="#ff6a4a" stroke-width="1.4"/>
<line x1="370" y1="114" x2="450" y2="114" stroke="#4f5a40" stroke-width="1.8" stroke-dasharray="2.5,1,1,1.2"/>
<line x1="370" y1="155" x2="450" y2="155" stroke="#4f5a40" stroke-width="1.8" stroke-dasharray="2.5,1,1,1.2"/>
</g>
<circle cx="408.5" cy="140.6" r="34.5" fill="none" stroke="#9a9a90" stroke-width="1"/>
<circle cx="405.5" cy="213.2" r="33.5" fill="#2e2e2e"/>
<g clip-path="url(#c2)">
<path d="M376,197.5 C378,196 390,196.2 410,197 C425,197.5 435,197 441,196.5 L441,203.5 C420,204.3 395,203.8 376,204 C373.5,202.5 373.5,199 376,197.5 Z" fill="#d8db50" stroke="#1a1a1a" stroke-width="0.8"/>
<path d="M372,204 C395,203.8 420,204.3 441,203.5 L441,212 C420,212.5 400,211 372,209 Z" fill="#aaa35e" stroke="#1a1a1a" stroke-width="0.8"/>
<path d="M376,206.3 C395,206.2 420,207 441,206.6" fill="none" stroke="#cfd060" stroke-width="1.3"/>
<path d="M380,208.6 C398,209.3 420,210.3 441,210" fill="none" stroke="#4a4626" stroke-width="0.8"/>
<path d="M414,211.3 L427,211.6" stroke="#1e9c3a" stroke-width="1.8"/>
<path d="M372,209 C392,210.8 410,212.5 427,213 C428.5,216 428,219.5 425.5,221.5 C405,220.8 385,219.5 372,218.5 Z" fill="#d8db50" stroke="#1a1a1a" stroke-width="0.8"/>
<path d="M427,213.8 L441,213.5 L441,217.5 L427,218 Z" fill="#d8db50" stroke="#1a1a1a" stroke-width="0.6"/>
<path d="M426.5,219.8 C430,218.8 436,219 441,219.2 L441,228 C434,228.3 429,227.8 426.5,226.2 C424.8,224.5 424.8,221.2 426.5,219.8 Z" fill="#d8db50" stroke="#1a1a1a" stroke-width="0.6"/>
</g>
<circle cx="405.5" cy="213.2" r="33.5" fill="none" stroke="#111" stroke-width="1.3"/>
<path d="M84,282.3 H470 V509 M84,282.3 V509 H470" fill="none" stroke="#111" stroke-width="2"/>
<path d="M77.5,509.5 H84 M80.5,492.0 H84 M80.5,474.5 H84 M80.5,457.0 H84 M77.5,439.5 H84 M80.5,422.0 H84 M80.5,404.5 H84 M80.5,387.0 H84 M77.5,369.5 H84 M80.5,352.0 H84 M80.5,334.5 H84 M80.5,317.0 H84 M77.5,299.5 H84 M101.0,509 V515 M132.8,509 V515 M164.4,509 V515 M196.8,509 V515 M228.5,509 V515 M260.3,509 V515 M291.8,509 V515 M323.7,509 V515 M355.8,509 V515 M387.8,509 V515 M419.7,509 V515 M451.3,509 V515" stroke="#111" stroke-width="1.6"/>
<line x1="180.7" x2="180.7" y1="284" y2="508" stroke="#666" stroke-width="1" stroke-dasharray="2.9,2.35"/>
<line x1="276.4" x2="276.4" y1="284" y2="508" stroke="#666" stroke-width="1" stroke-dasharray="2.9,2.35"/>
<line x1="371.6" x2="371.6" y1="284" y2="508" stroke="#666" stroke-width="1" stroke-dasharray="2.9,2.35"/>
<text x="72.6" y="514.8" text-anchor="end" class="t num">0</text>
<text x="72.6" y="444.8" text-anchor="end" class="t num">40</text>
<text x="72.6" y="374.8" text-anchor="end" class="t num">80</text>
<text x="72.6" y="304.8" text-anchor="end" class="t num">120</text><g fill="none" stroke="#3a9fd4" stroke-width="1.2"><circle cx="99.0" cy="474.1" r="2.75"/><circle cx="103.1" cy="474.1" r="2.75"/><circle cx="97.5" cy="479.3" r="2.75"/><circle cx="102.2" cy="480.3" r="2.75"/><circle cx="107.0" cy="479.5" r="2.75"/><circle cx="94.4" cy="482.8" r="2.75"/><circle cx="99.0" cy="483.5" r="2.75"/><circle cx="104.0" cy="483.8" r="2.75"/><circle cx="108.0" cy="483.0" r="2.75"/><circle cx="97.0" cy="487.5" r="2.75"/><circle cx="101.5" cy="487.5" r="2.75"/><circle cx="106.0" cy="487.5" r="2.75"/><circle cx="94.4" cy="490.5" r="2.75"/><circle cx="100.0" cy="490.8" r="2.75"/><circle cx="105.5" cy="490.5" r="2.75"/><circle cx="94.0" cy="495.2" r="2.75"/><circle cx="101.0" cy="494.6" r="2.75"/><circle cx="108.0" cy="495.2" r="2.75"/><circle cx="133.0" cy="439.4" r="2.75"/><circle cx="133.0" cy="453.2" r="2.75"/><circle cx="133.0" cy="469.0" r="2.75"/><circle cx="132.0" cy="472.0" r="2.75"/><circle cx="134.0" cy="475.0" r="2.75"/><circle cx="131.8" cy="478.0" r="2.75"/><circle cx="130.2" cy="480.1" r="2.75"/><circle cx="133.6" cy="480.0" r="2.75"/><circle cx="135.8" cy="480.1" r="2.75"/><circle cx="128.7" cy="482.5" r="2.75"/><circle cx="131.9" cy="482.9" r="2.75"/><circle cx="133.9" cy="482.3" r="2.75"/><circle cx="136.6" cy="482.9" r="2.75"/><circle cx="127.9" cy="484.5" r="2.75"/><circle cx="131.1" cy="485.6" r="2.75"/><circle cx="133.4" cy="485.1" r="2.75"/><circle cx="135.4" cy="484.4" r="2.75"/><circle cx="138.7" cy="484.5" r="2.75"/><circle cx="126.9" cy="487.2" r="2.75"/><circle cx="129.5" cy="487.5" r="2.75"/><circle cx="133.1" cy="487.9" r="2.75"/><circle cx="136.3" cy="487.7" r="2.75"/><circle cx="139.2" cy="487.7" r="2.75"/><circle cx="127.1" cy="489.7" r="2.75"/><circle cx="130.9" cy="490.6" r="2.75"/><circle cx="133.7" cy="490.2" r="2.75"/><circle cx="136.0" cy="489.7" r="2.75"/><circle cx="139.0" cy="489.5" r="2.75"/><circle cx="128.3" cy="492.4" r="2.75"/><circle cx="131.8" cy="492.4" r="2.75"/><circle cx="135.3" cy="492.9" r="2.75"/><circle cx="137.3" cy="492.2" r="2.75"/><circle cx="129.3" cy="495.0" r="2.75"/><circle cx="132.1" cy="494.9" r="2.75"/><circle cx="133.5" cy="495.2" r="2.75"/><circle cx="137.1" cy="494.7" r="2.75"/><circle cx="130.1" cy="497.3" r="2.75"/><circle cx="133.4" cy="497.8" r="2.75"/><circle cx="134.5" cy="497.2" r="2.75"/><circle cx="158.0" cy="300.0" r="2.75"/><circle cx="161.4" cy="300.0" r="2.75"/><circle cx="164.8" cy="300.0" r="2.75"/><circle cx="168.2" cy="300.0" r="2.75"/><circle cx="171.6" cy="300.0" r="2.75"/><circle cx="164.4" cy="323.1" r="2.75"/><circle cx="164.4" cy="327.5" r="2.75"/><circle cx="162.3" cy="404.2" r="2.75"/><circle cx="167.0" cy="407.8" r="2.75"/><circle cx="171.6" cy="418.6" r="2.75"/><circle cx="167.5" cy="419.8" r="2.75"/><circle cx="162.3" cy="422.0" r="2.75"/><circle cx="157.5" cy="437.6" r="2.75"/><circle cx="162.3" cy="437.6" r="2.75"/><circle cx="167.0" cy="441.0" r="2.75"/><circle cx="164.6" cy="451.5" r="2.75"/><circle cx="159.9" cy="470.6" r="2.75"/><circle cx="164.4" cy="470.6" r="2.75"/><circle cx="169.2" cy="470.6" r="2.75"/><circle cx="158.0" cy="479.0" r="2.75"/><circle cx="171.6" cy="479.0" r="2.75"/><circle cx="166.8" cy="482.6" r="2.75"/><circle cx="162.3" cy="485.0" r="2.75"/><circle cx="196.6" cy="460.2" r="2.75"/><circle cx="189.9" cy="494.8" r="2.75"/><circle cx="196.8" cy="494.2" r="2.75"/><circle cx="202.6" cy="494.8" r="2.75"/><circle cx="190.5" cy="490.8" r="2.75"/><circle cx="199.5" cy="491.2" r="2.75"/><circle cx="205.0" cy="491.0" r="2.75"/><circle cx="194.4" cy="478.0" r="2.75"/><circle cx="197.4" cy="478.1" r="2.75"/><circle cx="199.3" cy="478.4" r="2.75"/><circle cx="193.0" cy="481.3" r="2.75"/><circle cx="196.3" cy="481.2" r="2.75"/><circle cx="199.8" cy="480.9" r="2.75"/><circle cx="191.7" cy="483.2" r="2.75"/><circle cx="195.8" cy="483.9" r="2.75"/><circle cx="198.1" cy="484.0" r="2.75"/><circle cx="201.1" cy="483.4" r="2.75"/><circle cx="191.2" cy="486.2" r="2.75"/><circle cx="193.2" cy="486.6" r="2.75"/><circle cx="196.3" cy="485.7" r="2.75"/><circle cx="200.1" cy="485.8" r="2.75"/><circle cx="202.5" cy="485.5" r="2.75"/><circle cx="190.4" cy="488.6" r="2.75"/><circle cx="193.4" cy="488.6" r="2.75"/><circle cx="196.6" cy="488.4" r="2.75"/><circle cx="200.4" cy="488.5" r="2.75"/><circle cx="202.9" cy="488.9" r="2.75"/><circle cx="228.7" cy="447.9" r="2.75"/><circle cx="228.7" cy="463.4" r="2.75"/><circle cx="228.4" cy="466.5" r="2.75"/><circle cx="228.4" cy="469.8" r="2.75"/><circle cx="228.4" cy="473.0" r="2.75"/><circle cx="226.9" cy="475.1" r="2.75"/><circle cx="230.1" cy="475.9" r="2.75"/><circle cx="225.8" cy="477.6" r="2.75"/><circle cx="228.8" cy="478.5" r="2.75"/><circle cx="230.4" cy="478.5" r="2.75"/><circle cx="225.6" cy="480.6" r="2.75"/><circle cx="228.4" cy="480.0" r="2.75"/><circle cx="231.3" cy="481.1" r="2.75"/><circle cx="223.7" cy="483.2" r="2.75"/><circle cx="226.7" cy="483.4" r="2.75"/><circle cx="230.1" cy="482.8" r="2.75"/><circle cx="232.5" cy="483.3" r="2.75"/><circle cx="222.7" cy="485.2" r="2.75"/><circle cx="225.8" cy="485.9" r="2.75"/><circle cx="228.7" cy="485.2" r="2.75"/><circle cx="231.9" cy="485.1" r="2.75"/><circle cx="233.4" cy="485.2" r="2.75"/><circle cx="222.7" cy="487.5" r="2.75"/><circle cx="225.2" cy="487.8" r="2.75"/><circle cx="228.7" cy="487.6" r="2.75"/><circle cx="231.3" cy="488.5" r="2.75"/><circle cx="234.7" cy="488.2" r="2.75"/><circle cx="223.0" cy="490.6" r="2.75"/><circle cx="225.2" cy="489.9" r="2.75"/><circle cx="228.0" cy="491.0" r="2.75"/><circle cx="231.9" cy="491.1" r="2.75"/><circle cx="234.0" cy="490.7" r="2.75"/><circle cx="223.1" cy="493.3" r="2.75"/><circle cx="225.7" cy="493.6" r="2.75"/><circle cx="228.2" cy="493.1" r="2.75"/><circle cx="231.9" cy="493.5" r="2.75"/><circle cx="234.7" cy="493.2" r="2.75"/><circle cx="224.5" cy="496.0" r="2.75"/><circle cx="227.0" cy="495.7" r="2.75"/><circle cx="230.9" cy="495.9" r="2.75"/><circle cx="233.3" cy="495.8" r="2.75"/><circle cx="226.4" cy="498.1" r="2.75"/><circle cx="228.8" cy="497.9" r="2.75"/><circle cx="231.4" cy="498.1" r="2.75"/><circle cx="260.3" cy="442.8" r="2.75"/><circle cx="261.5" cy="465.0" r="2.75"/><circle cx="260.8" cy="468.5" r="2.75"/><circle cx="258.0" cy="473.7" r="2.75"/><circle cx="262.5" cy="472.0" r="2.75"/><circle cx="257.5" cy="477.0" r="2.75"/><circle cx="263.5" cy="476.0" r="2.75"/><circle cx="259.4" cy="501.9" r="2.75"/><circle cx="261.5" cy="498.5" r="2.75"/><circle cx="257.0" cy="499.0" r="2.75"/><circle cx="256.4" cy="479.2" r="2.75"/><circle cx="260.7" cy="479.5" r="2.75"/><circle cx="263.6" cy="478.9" r="2.75"/><circle cx="255.8" cy="481.6" r="2.75"/><circle cx="258.5" cy="481.9" r="2.75"/><circle cx="261.1" cy="481.8" r="2.75"/><circle cx="264.2" cy="481.6" r="2.75"/><circle cx="254.6" cy="483.7" r="2.75"/><circle cx="257.7" cy="484.0" r="2.75"/><circle cx="260.4" cy="484.5" r="2.75"/><circle cx="262.7" cy="483.4" r="2.75"/><circle cx="265.6" cy="484.2" r="2.75"/><circle cx="254.0" cy="486.1" r="2.75"/><circle cx="257.8" cy="486.7" r="2.75"/><circle cx="260.2" cy="487.0" r="2.75"/><circle cx="263.0" cy="486.7" r="2.75"/><circle cx="265.8" cy="486.4" r="2.75"/><circle cx="254.9" cy="489.5" r="2.75"/><circle cx="257.8" cy="488.9" r="2.75"/><circle cx="260.2" cy="488.8" r="2.75"/><circle cx="262.4" cy="489.0" r="2.75"/><circle cx="266.1" cy="489.4" r="2.75"/><circle cx="255.3" cy="492.0" r="2.75"/><circle cx="258.0" cy="491.1" r="2.75"/><circle cx="261.6" cy="491.2" r="2.75"/><circle cx="264.6" cy="491.4" r="2.75"/><circle cx="256.4" cy="494.0" r="2.75"/><circle cx="258.5" cy="494.4" r="2.75"/><circle cx="261.9" cy="493.9" r="2.75"/><circle cx="263.2" cy="493.4" r="2.75"/><circle cx="258.4" cy="495.9" r="2.75"/><circle cx="262.4" cy="496.6" r="2.75"/><circle cx="292.3" cy="453.1" r="2.75"/><circle cx="292.3" cy="466.2" r="2.75"/><circle cx="292.3" cy="469.2" r="2.75"/><circle cx="292.3" cy="472.5" r="2.75"/><circle cx="290.5" cy="476.0" r="2.75"/><circle cx="294.0" cy="478.0" r="2.75"/><circle cx="290.6" cy="497.3" r="2.75"/><circle cx="289.5" cy="480.3" r="2.75"/><circle cx="291.3" cy="479.6" r="2.75"/><circle cx="294.2" cy="479.4" r="2.75"/><circle cx="289.0" cy="482.2" r="2.75"/><circle cx="290.5" cy="482.0" r="2.75"/><circle cx="293.8" cy="482.4" r="2.75"/><circle cx="296.3" cy="482.7" r="2.75"/><circle cx="288.1" cy="485.6" r="2.75"/><circle cx="291.2" cy="484.6" r="2.75"/><circle cx="294.2" cy="484.6" r="2.75"/><circle cx="296.8" cy="485.0" r="2.75"/><circle cx="287.6" cy="487.1" r="2.75"/><circle cx="289.7" cy="487.3" r="2.75"/><circle cx="293.0" cy="487.5" r="2.75"/><circle cx="295.6" cy="487.8" r="2.75"/><circle cx="298.0" cy="487.9" r="2.75"/><circle cx="288.1" cy="489.5" r="2.75"/><circle cx="290.7" cy="490.3" r="2.75"/><circle cx="292.1" cy="489.9" r="2.75"/><circle cx="295.4" cy="490.5" r="2.75"/><circle cx="297.6" cy="490.1" r="2.75"/><circle cx="288.6" cy="492.9" r="2.75"/><circle cx="291.6" cy="492.5" r="2.75"/><circle cx="294.1" cy="492.1" r="2.75"/><circle cx="297.1" cy="492.9" r="2.75"/><circle cx="289.9" cy="495.3" r="2.75"/><circle cx="291.6" cy="495.5" r="2.75"/><circle cx="294.6" cy="495.6" r="2.75"/><circle cx="323.7" cy="404.2" r="2.75"/><circle cx="323.7" cy="460.7" r="2.75"/><circle cx="323.7" cy="463.8" r="2.75"/><circle cx="323.7" cy="467.0" r="2.75"/><circle cx="323.7" cy="470.5" r="2.75"/><circle cx="322.5" cy="473.5" r="2.75"/><circle cx="325.0" cy="475.0" r="2.75"/><circle cx="323.7" cy="501.5" r="2.75"/><circle cx="321.0" cy="500.0" r="2.75"/><circle cx="326.5" cy="500.0" r="2.75"/><circle cx="320.8" cy="477.3" r="2.75"/><circle cx="323.7" cy="477.5" r="2.75"/><circle cx="327.6" cy="476.8" r="2.75"/><circle cx="319.4" cy="479.4" r="2.75"/><circle cx="322.7" cy="479.8" r="2.75"/><circle cx="325.4" cy="478.9" r="2.75"/><circle cx="328.6" cy="479.0" r="2.75"/><circle cx="319.2" cy="481.6" r="2.75"/><circle cx="321.1" cy="482.3" r="2.75"/><circle cx="323.5" cy="481.6" r="2.75"/><circle cx="326.6" cy="482.3" r="2.75"/><circle cx="329.6" cy="482.2" r="2.75"/><circle cx="319.0" cy="484.5" r="2.75"/><circle cx="321.9" cy="484.0" r="2.75"/><circle cx="323.7" cy="484.5" r="2.75"/><circle cx="326.6" cy="484.8" r="2.75"/><circle cx="330.0" cy="484.5" r="2.75"/><circle cx="318.5" cy="487.1" r="2.75"/><circle cx="320.8" cy="486.9" r="2.75"/><circle cx="324.7" cy="487.5" r="2.75"/><circle cx="326.8" cy="487.4" r="2.75"/><circle cx="330.6" cy="487.0" r="2.75"/><circle cx="317.9" cy="489.1" r="2.75"/><circle cx="321.1" cy="489.5" r="2.75"/><circle cx="324.4" cy="488.9" r="2.75"/><circle cx="328.1" cy="489.5" r="2.75"/><circle cx="330.6" cy="489.9" r="2.75"/><circle cx="318.1" cy="492.0" r="2.75"/><circle cx="321.4" cy="491.5" r="2.75"/><circle cx="324.3" cy="491.9" r="2.75"/><circle cx="328.0" cy="492.5" r="2.75"/><circle cx="330.2" cy="492.0" r="2.75"/><circle cx="317.9" cy="494.4" r="2.75"/><circle cx="321.7" cy="495.0" r="2.75"/><circle cx="324.2" cy="494.3" r="2.75"/><circle cx="326.8" cy="494.6" r="2.75"/><circle cx="330.6" cy="494.1" r="2.75"/><circle cx="320.1" cy="496.4" r="2.75"/><circle cx="322.2" cy="496.7" r="2.75"/><circle cx="325.7" cy="496.8" r="2.75"/><circle cx="328.0" cy="497.1" r="2.75"/><circle cx="348.9" cy="300.0" r="2.75"/><circle cx="351.7" cy="300.0" r="2.75"/><circle cx="354.9" cy="300.0" r="2.75"/><circle cx="357.7" cy="300.0" r="2.75"/><circle cx="360.6" cy="300.0" r="2.75"/><circle cx="363.2" cy="300.0" r="2.75"/><circle cx="355.8" cy="362.7" r="2.75"/><circle cx="355.8" cy="369.9" r="2.75"/><circle cx="355.8" cy="385.5" r="2.75"/><circle cx="355.8" cy="416.7" r="2.75"/><circle cx="355.8" cy="423.9" r="2.75"/><circle cx="355.8" cy="432.3" r="2.75"/><circle cx="359.4" cy="435.9" r="2.75"/><circle cx="355.8" cy="440.6" r="2.75"/><circle cx="356.2" cy="445.8" r="2.75"/><circle cx="359.6" cy="451.0" r="2.75"/><circle cx="356.2" cy="455.6" r="2.75"/><circle cx="352.7" cy="461.3" r="2.75"/><circle cx="356.7" cy="464.8" r="2.75"/><circle cx="359.0" cy="470.0" r="2.75"/><circle cx="356.2" cy="470.2" r="2.75"/><circle cx="352.1" cy="474.0" r="2.75"/><circle cx="348.7" cy="477.5" r="2.75"/><circle cx="362.5" cy="477.5" r="2.75"/><circle cx="355.6" cy="477.5" r="2.75"/><circle cx="352.7" cy="481.0" r="2.75"/><circle cx="359.0" cy="481.0" r="2.75"/><circle cx="356.2" cy="484.4" r="2.75"/><circle cx="356.2" cy="489.0" r="2.75"/><circle cx="356.2" cy="496.5" r="2.75"/><circle cx="387.3" cy="440.7" r="2.75"/><circle cx="387.3" cy="445.8" r="2.75"/><circle cx="387.3" cy="460.5" r="2.75"/><circle cx="387.3" cy="465.2" r="2.75"/><circle cx="387.3" cy="467.7" r="2.75"/><circle cx="385.0" cy="494.5" r="2.75"/><circle cx="391.0" cy="494.5" r="2.75"/><circle cx="384.4" cy="482.3" r="2.75"/><circle cx="387.0" cy="482.0" r="2.75"/><circle cx="389.9" cy="481.6" r="2.75"/><circle cx="382.9" cy="484.4" r="2.75"/><circle cx="385.9" cy="484.4" r="2.75"/><circle cx="389.3" cy="484.1" r="2.75"/><circle cx="392.0" cy="484.7" r="2.75"/><circle cx="381.9" cy="487.0" r="2.75"/><circle cx="385.3" cy="487.1" r="2.75"/><circle cx="388.3" cy="486.7" r="2.75"/><circle cx="391.2" cy="487.4" r="2.75"/><circle cx="394.2" cy="486.8" r="2.75"/><circle cx="381.5" cy="490.0" r="2.75"/><circle cx="384.5" cy="490.1" r="2.75"/><circle cx="388.5" cy="489.1" r="2.75"/><circle cx="390.7" cy="489.8" r="2.75"/><circle cx="393.9" cy="489.0" r="2.75"/><circle cx="383.5" cy="491.9" r="2.75"/><circle cx="386.8" cy="491.6" r="2.75"/><circle cx="389.5" cy="492.2" r="2.75"/><circle cx="392.2" cy="491.6" r="2.75"/><circle cx="419.8" cy="300.0" r="2.75"/><circle cx="419.8" cy="434.0" r="2.75"/><circle cx="419.8" cy="443.8" r="2.75"/><circle cx="419.8" cy="447.5" r="2.75"/><circle cx="420.5" cy="465.5" r="2.75"/><circle cx="422.0" cy="468.5" r="2.75"/><circle cx="420.0" cy="471.5" r="2.75"/><circle cx="421.5" cy="474.5" r="2.75"/><circle cx="419.0" cy="477.5" r="2.75"/><circle cx="417.0" cy="502.0" r="2.75"/><circle cx="421.5" cy="502.5" r="2.75"/><circle cx="416.0" cy="480.5" r="2.75"/><circle cx="419.2" cy="479.5" r="2.75"/><circle cx="421.4" cy="480.3" r="2.75"/><circle cx="424.3" cy="480.2" r="2.75"/><circle cx="414.7" cy="482.0" r="2.75"/><circle cx="417.8" cy="481.9" r="2.75"/><circle cx="421.7" cy="482.5" r="2.75"/><circle cx="425.1" cy="482.1" r="2.75"/><circle cx="413.9" cy="484.6" r="2.75"/><circle cx="417.6" cy="485.6" r="2.75"/><circle cx="420.6" cy="484.5" r="2.75"/><circle cx="422.3" cy="485.5" r="2.75"/><circle cx="425.7" cy="485.3" r="2.75"/><circle cx="414.0" cy="487.5" r="2.75"/><circle cx="417.1" cy="487.4" r="2.75"/><circle cx="420.1" cy="486.9" r="2.75"/><circle cx="423.2" cy="487.9" r="2.75"/><circle cx="425.3" cy="487.4" r="2.75"/><circle cx="414.6" cy="489.9" r="2.75"/><circle cx="416.7" cy="489.6" r="2.75"/><circle cx="420.0" cy="489.4" r="2.75"/><circle cx="423.4" cy="490.4" r="2.75"/><circle cx="426.0" cy="490.4" r="2.75"/><circle cx="414.6" cy="492.4" r="2.75"/><circle cx="417.3" cy="492.5" r="2.75"/><circle cx="420.6" cy="492.9" r="2.75"/><circle cx="422.4" cy="493.0" r="2.75"/><circle cx="425.8" cy="492.8" r="2.75"/><circle cx="415.6" cy="494.9" r="2.75"/><circle cx="418.7" cy="495.5" r="2.75"/><circle cx="421.5" cy="495.3" r="2.75"/><circle cx="424.6" cy="494.9" r="2.75"/><circle cx="416.4" cy="497.0" r="2.75"/><circle cx="419.3" cy="497.5" r="2.75"/><circle cx="422.2" cy="497.3" r="2.75"/><circle cx="417.9" cy="500.1" r="2.75"/><circle cx="420.9" cy="500.5" r="2.75"/><circle cx="451.3" cy="388.6" r="2.75"/><circle cx="451.5" cy="449.8" r="2.75"/><circle cx="451.5" cy="458.1" r="2.75"/><circle cx="452.0" cy="469.0" r="2.75"/><circle cx="450.5" cy="472.0" r="2.75"/><circle cx="452.5" cy="475.0" r="2.75"/><circle cx="450.0" cy="478.0" r="2.75"/><circle cx="449.0" cy="496.5" r="2.75"/><circle cx="454.0" cy="496.0" r="2.75"/><circle cx="449.0" cy="479.8" r="2.75"/><circle cx="451.7" cy="480.1" r="2.75"/><circle cx="454.3" cy="479.9" r="2.75"/><circle cx="447.9" cy="482.7" r="2.75"/><circle cx="450.4" cy="482.8" r="2.75"/><circle cx="453.8" cy="481.9" r="2.75"/><circle cx="456.3" cy="482.8" r="2.75"/><circle cx="445.9" cy="484.9" r="2.75"/><circle cx="448.3" cy="484.6" r="2.75"/><circle cx="451.6" cy="484.5" r="2.75"/><circle cx="454.2" cy="485.5" r="2.75"/><circle cx="457.4" cy="485.0" r="2.75"/><circle cx="446.6" cy="487.6" r="2.75"/><circle cx="449.5" cy="487.7" r="2.75"/><circle cx="452.2" cy="487.0" r="2.75"/><circle cx="454.8" cy="487.8" r="2.75"/><circle cx="456.9" cy="488.0" r="2.75"/><circle cx="445.4" cy="490.0" r="2.75"/><circle cx="448.3" cy="490.0" r="2.75"/><circle cx="451.9" cy="489.5" r="2.75"/><circle cx="455.4" cy="489.9" r="2.75"/><circle cx="457.8" cy="490.1" r="2.75"/><circle cx="446.8" cy="492.2" r="2.75"/><circle cx="450.3" cy="492.6" r="2.75"/><circle cx="452.8" cy="492.8" r="2.75"/><circle cx="455.9" cy="491.9" r="2.75"/></g><g stroke="#111" stroke-width="2.3"><line x1="93.1" x2="110.3" y1="486.5" y2="486.5"/><line x1="124.4" x2="142" y1="487.3" y2="487.3"/><line x1="156.3" x2="173.5" y1="429.9" y2="429.9"/><line x1="188.2" x2="205.5" y1="488.2" y2="488.2"/><line x1="219.8" x2="237.3" y1="488.2" y2="488.2"/><line x1="251.9" x2="269.2" y1="484.8" y2="484.8"/><line x1="284.2" x2="301.5" y1="487.5" y2="487.5"/><line x1="315.1" x2="333.3" y1="489.1" y2="489.1"/><line x1="347.2" x2="364.8" y1="453" y2="453"/><line x1="378.7" x2="397.1" y1="487.9" y2="487.9"/><line x1="411.25" x2="428.75" y1="489.75" y2="489.75"/><line x1="443.1" x2="460.6" y1="484.75" y2="484.75"/></g><text x="101.0" y="535" text-anchor="middle" class="t gt">+/+</text>
<text x="132.8" y="535" text-anchor="middle" class="t gt">+/−</text>
<text x="164.4" y="535" text-anchor="middle" class="t gt">−/−</text>
<text x="196.8" y="535" text-anchor="middle" class="t gt">+/+</text>
<text x="228.5" y="535" text-anchor="middle" class="t gt">+/−</text>
<text x="260.3" y="535" text-anchor="middle" class="t gt">−/−</text>
<text x="291.8" y="535" text-anchor="middle" class="t gt">+/+</text>
<text x="323.7" y="535" text-anchor="middle" class="t gt">+/−</text>
<text x="355.8" y="535" text-anchor="middle" class="t gt">−/−</text>
<text x="387.8" y="535" text-anchor="middle" class="t gt">+/+</text>
<text x="419.7" y="535" text-anchor="middle" class="t gt">+/−</text>
<text x="451.3" y="535" text-anchor="middle" class="t gt">−/−</text>
<text x="132.6" y="557" text-anchor="middle" class="t">uninjected</text>
<text x="228" y="558" text-anchor="middle" class="t i">proc1</text>
<text x="324.5" y="558" text-anchor="middle" class="t i">proc2</text>
<text x="419.5" y="558" text-anchor="middle" class="t i">proc1+proc2</text>
<text x="63" y="581" class="t">n</text><text transform="translate(80.3,581) scale(1.35,1)" text-anchor="middle" class="t">=</text>
<text x="101.5" y="581" text-anchor="middle" class="t num">18</text>
<text x="133.2" y="581" text-anchor="middle" class="t num">42</text>
<text x="164.8" y="581" text-anchor="middle" class="t num">22</text>
<text x="197.2" y="581" text-anchor="middle" class="t num">22</text>
<text x="228.9" y="581" text-anchor="middle" class="t num">59</text>
<text x="260.8" y="581" text-anchor="middle" class="t num">36</text>
<text x="292.2" y="581" text-anchor="middle" class="t num">32</text>
<text x="324.1" y="581" text-anchor="middle" class="t num">70</text>
<text x="356.2" y="581" text-anchor="middle" class="t num">30</text>
<text x="388.2" y="581" text-anchor="middle" class="t num">27</text>
<text x="420.1" y="581" text-anchor="middle" class="t num">67</text>
<text x="451.8" y="581" text-anchor="middle" class="t num">46</text>
<text transform="translate(40.5,396) rotate(-90) scale(0.78,1)" text-anchor="middle" class="t ax">TTO (sec)</text>
<rect x="115.8" y="894.8" width="35.4" height="7.7" fill="#fff" stroke="#111" stroke-width="1.5"/>
<rect x="115.8" y="787.9" width="35.4" height="106.9" fill="#d5e6c8" stroke="#111" stroke-width="1.5"/>
<rect x="115.8" y="722.3" width="35.4" height="65.6" fill="#8ac36d" stroke="#111" stroke-width="1.5"/>
<rect x="115.8" y="627.0" width="35.4" height="95.3" fill="#38aa33" stroke="#111" stroke-width="1.5"/>
<rect x="180.8" y="894.8" width="34.6" height="7.7" fill="#fff" stroke="#111" stroke-width="1.5"/>
<rect x="180.8" y="781.6" width="34.6" height="113.2" fill="#d5e6c8" stroke="#111" stroke-width="1.5"/>
<rect x="180.8" y="704.7" width="34.6" height="76.9" fill="#8ac36d" stroke="#111" stroke-width="1.5"/>
<rect x="180.8" y="627.0" width="34.6" height="77.7" fill="#38aa33" stroke="#111" stroke-width="1.5"/>
<rect x="245.4" y="638.8" width="35.0" height="263.7" fill="#fff" stroke="#111" stroke-width="1.5"/>
<rect x="245.4" y="635.8" width="35.0" height="3.0" fill="#d5e6c8" stroke="#111" stroke-width="1.5"/>
<rect x="245.4" y="630.3" width="35.0" height="5.5" fill="#8ac36d" stroke="#111" stroke-width="1.5"/>
<rect x="245.4" y="627.0" width="35.0" height="3.3" fill="#38aa33" stroke="#111" stroke-width="1.5"/>
<rect x="310.0" y="846.3" width="34.4" height="56.2" fill="#fff" stroke="#111" stroke-width="1.5"/>
<rect x="310.0" y="717.4" width="34.4" height="128.9" fill="#d5e6c8" stroke="#111" stroke-width="1.5"/>
<rect x="310.0" y="663.4" width="34.4" height="54.0" fill="#8ac36d" stroke="#111" stroke-width="1.5"/>
<rect x="310.0" y="627.0" width="34.4" height="36.4" fill="#38aa33" stroke="#111" stroke-width="1.5"/>
<rect x="374.2" y="652.1" width="34.6" height="250.4" fill="#fff" stroke="#111" stroke-width="1.5"/>
<rect x="374.2" y="627.0" width="34.6" height="25.1" fill="#d5e6c8" stroke="#111" stroke-width="1.5"/>
<path d="M98,627 H427.7 V902.6 M98,627 V902.6 M92,902.6 H428.5" fill="none" stroke="#111" stroke-width="1.8"/>
<path d="M91.8,902.5 H98 M94.5,875.0 H98 M91.8,847.4 H98 M94.5,819.9 H98 M91.8,792.3 H98 M94.5,764.8 H98 M91.8,737.2 H98 M94.5,709.6 H98 M91.8,682.1 H98 M94.5,654.5 H98 M91.8,627.0 H98 M133.5,902.6 V908.5 M198.1,902.6 V908.5 M262.9,902.6 V908.5 M327.2,902.6 V908.5 M391.5,902.6 V908.5" stroke="#111" stroke-width="1.5"/>
<text x="86.3" y="907.8" text-anchor="end" class="t num">0</text>
<text x="86.3" y="852.7" text-anchor="end" class="t num">20</text>
<text x="86.3" y="797.6" text-anchor="end" class="t num">40</text>
<text x="86.3" y="742.5" text-anchor="end" class="t num">60</text>
<text x="86.3" y="687.4" text-anchor="end" class="t num">80</text>
<text x="86.3" y="632.3" text-anchor="end" class="t num">100</text>
<text transform="translate(47.5,765) rotate(-90) scale(0.8,1)" text-anchor="middle" class="t ax">Frequency of thrombosis %</text>
<rect x="436.5" y="627.5" width="19.5" height="24.5" fill="#38aa33"/>
<rect x="436.5" y="652" width="19.5" height="25.5" fill="#8ac36d"/>
<rect x="436.5" y="677.5" width="19.5" height="24" fill="#d5e6c8"/>
<rect x="436.5" y="627.5" width="19.5" height="100" fill="none" stroke="#111" stroke-width="1.5"/>
<text x="462.5" y="656" class="t">10</text><text x="462.5" y="681" class="t">5</text><text x="462.5" y="705" class="t">0</text>
<text transform="translate(492,678) rotate(90) scale(0.79,1)" text-anchor="middle" class="t ax">Fibrin deposition</text>
<text transform="translate(138.5,914.5) rotate(-90)" text-anchor="end" class="t">ctl</text>
<text transform="translate(203.1,914.5) rotate(-90)" text-anchor="end" class="t">mock</text>
<text transform="translate(267.9,914.5) rotate(-90)" text-anchor="end" class="t i">proc1</text>
<text transform="translate(332.2,914.5) rotate(-90)" text-anchor="end" class="t i">proc2</text>
<text transform="translate(387.3,914.5) rotate(-90)" text-anchor="end" class="t i">proc1</text>
<text transform="translate(406,914.5) rotate(-90)" text-anchor="end" class="t i">+proc2</text>
<text x="95.5" y="983.5" class="t">n</text><text transform="translate(112.8,983.5) scale(1.35,1)" text-anchor="middle" class="t">=</text>
<text x="133.3" y="983.5" text-anchor="middle" class="t" style="letter-spacing:0.4px">67</text>
<text x="198.3" y="983.5" text-anchor="middle" class="t" style="letter-spacing:0.4px">68</text>
<text x="262.8" y="983.5" text-anchor="middle" class="t" style="letter-spacing:0.4px">93</text>
<text x="327.7" y="983.5" text-anchor="middle" class="t" style="letter-spacing:0.4px">92</text>
<text x="391.8" y="983.5" text-anchor="middle" class="t" style="letter-spacing:0.4px">101</text>
<rect x="0.5" y="0.5" width="519" height="1000" fill="none" stroke="#000" stroke-width="1.3"/>
</svg>
</body></html>
